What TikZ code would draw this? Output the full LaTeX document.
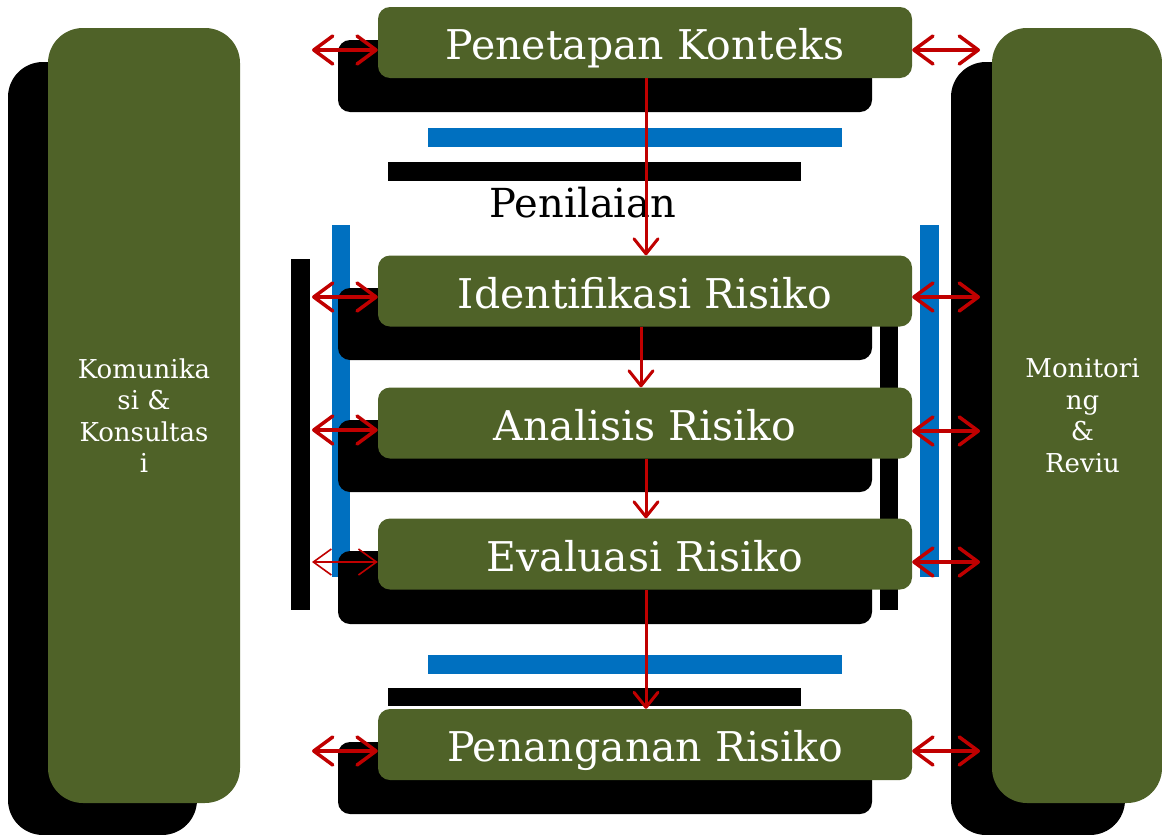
\documentclass[tikz,border=0pt]{standalone}
\usepackage{fontspec}
\setmainfont{DejaVu Serif}
\usetikzlibrary{arrows.meta}
\definecolor{olivegreen}{HTML}{4F6228}
\definecolor{barblue}{HTML}{0070C0}
\definecolor{darkred}{HTML}{C00000}
\tikzset{
  stepbox/.style={fill=olivegreen, rounded corners=12pt, minimum width=534pt, minimum height=71pt,
    inner sep=0pt, text=white, font=\fontsize{41}{45}\selectfont, text height=34pt, text depth=0pt},
  shadowbox/.style={fill=black, rounded corners=12pt},
  sidebox/.style={fill=olivegreen, rounded corners=35pt, inner sep=0pt, text=white, align=center,
    font=\fontsize{26}{31.5}\selectfont},
  sideshadow/.style={fill=black, rounded corners=35pt},
  bluebar/.style={fill=barblue},
  blackbar/.style={fill=black},
  link/.style={draw=darkred, line width=3.5pt,
    {Straight Barb[length=19pt,width=28pt,round]}-{Straight Barb[length=19pt,width=28pt,round]}},
  thinlink/.style={draw=darkred, line width=1.6pt,
    {Straight Barb[length=18pt,width=26pt]}-{Straight Barb[length=18pt,width=26pt]}},
  flow/.style={draw=darkred, line width=3pt, -{Straight Barb[length=15pt,width=24pt,round]}},
}
\newcommand{\rsh}{\hspace*{11pt}}
\begin{document}
\begin{tikzpicture}[x=1pt,y=-1pt]
\useasboundingbox (0,0) rectangle (1162,835);
% side shadows and boxes
\fill[sideshadow] (8,62) rectangle (197,835);
\fill[sideshadow] (951,62) rectangle (1125,835);
\node[sidebox, minimum width=192pt, minimum height=775pt] (kk) at (144,415.5)
  {Komunika\\si \&\\Konsultas\\i};
\node[sidebox, minimum width=170pt, minimum height=775pt] (mr) at (1077,415.5)
  {\rsh Monitori\\\rsh ng\\\rsh\&\\\rsh Reviu};
% bars
\fill[bluebar] (428,128) rectangle (842,147);
\fill[blackbar] (388,162) rectangle (801,181);
\fill[bluebar] (428,655) rectangle (842,674);
\fill[blackbar] (388,688) rectangle (801,706);
\fill[bluebar] (332,225) rectangle (350,577);
\fill[blackbar] (291,259) rectangle (310,610);
\fill[bluebar] (920,225) rectangle (939,577);
\fill[blackbar] (880,259) rectangle (898,610);
% step shadows
\fill[shadowbox] (338,40) rectangle (872,112);
\fill[shadowbox] (338,288) rectangle (872,360);
\fill[shadowbox] (338,420) rectangle (872,492);
\fill[shadowbox] (338,551) rectangle (872,624);
\fill[shadowbox] (338,742) rectangle (872,814);
% step boxes
\node[stepbox] (pk) at (645,42.5) {Penetapan Konteks};
\node[stepbox] (ir) at (645,291) {Identifikasi Risiko};
\node[stepbox] (ar) at (645,423) {Analisis Risiko};
\node[stepbox] (er) at (645,554) {Evaluasi Risiko};
\node[stepbox] (pr) at (645,744.5) {Penanganan Risiko};
\node[anchor=base, inner sep=0pt, font=\fontsize{40}{44}\selectfont] (pn) at (583,217) {Penilaian};
% vertical flow
\draw[flow] ([xshift=1pt]pk.south) -- ([xshift=1pt]ir.north);
\draw[flow] ([xshift=-4pt]ir.south) -- ([xshift=-4pt]ar.north);
\draw[flow] ([xshift=1pt]ar.south) -- ([xshift=1pt]er.north);
\draw[flow] ([xshift=1pt]er.south) -- ([xshift=1pt]pr.north);
% left links
\coordinate (l1) at (312,50);
\coordinate (l2) at (312,297);
\coordinate (l3) at (312,430);
\coordinate (l4) at (312,562);
\coordinate (l5) at (312,751);
\draw[link] (l1) -- (l1 -| pk.west);
\draw[link] (l2) -- (l2 -| ir.west);
\draw[link] (l3) -- (l3 -| ar.west);
\draw[thinlink] (l4) -- (l4 -| er.west);
\draw[link] (l5) -- (l5 -| pr.west);
% right links
\coordinate (r1) at (980,50);
\coordinate (r2) at (980,297);
\coordinate (r3) at (980,431);
\coordinate (r4) at (980,562);
\coordinate (r5) at (980,751);
\draw[link] (r1 -| pk.east) -- (r1);
\draw[link] (r2 -| ir.east) -- (r2);
\draw[link] (r3 -| ar.east) -- (r3);
\draw[link] (r4 -| er.east) -- (r4);
\draw[link] (r5 -| pr.east) -- (r5);
\end{tikzpicture}
\end{document}
